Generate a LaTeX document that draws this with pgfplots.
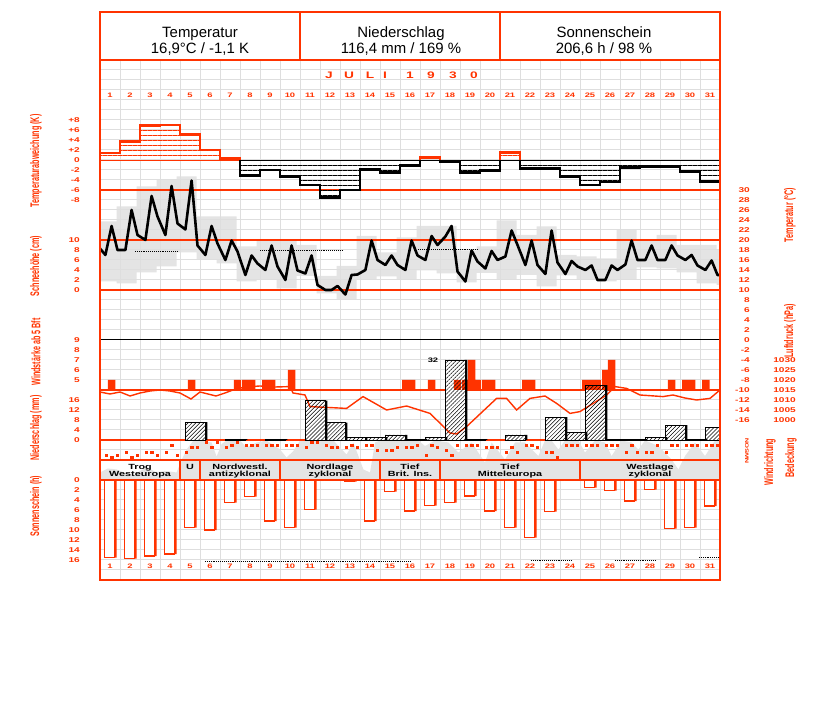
\documentclass[border=0pt]{standalone}
\usepackage{fontspec}
\setmainfont{Liberation Sans}
\newfontfamily\pixf{Liberation Sans}[FakeStretch=1.45]
\newfontfamily\narrowf{Liberation Sans}[FakeStretch=0.58]
\usepackage{pgfplots}
\pgfplotsset{compat=1.18}
\usepackage{pgfplotstable}
\usepgfplotslibrary{fillbetween}
\usetikzlibrary{patterns,patterns.meta}
\definecolor{rd}{RGB}{255,51,0}
\definecolor{gridc}{RGB}{222,222,222}
\definecolor{grf}{RGB}{228,228,228}
\pgfplotsset{lay/.style={at={(100bp,122bp)},anchor=south west,scale only axis,
  width=620bp,height=568bp,xmin=0,xmax=31,hide axis}}
\newcommand{\pf}[1]{\pixf\fontsize{#1}{#1}\selectfont}
\newcommand{\nf}{\narrowf\fontsize{12.5}{13}\selectfont}

% daily temperature range boxes (21h to 21h), deg C
\pgfplotstableread{
x lo hi
-0.167 11.7 23.7
0.833 11.3 26.7
1.833 13.5 30.7
2.833 14.7 32.0
3.833 17.5 32.7
4.833 16.0 24.7
5.833 15.3 24.7
6.833 11.7 18.7
7.833 12.0 20.0
8.833 10.3 20.1
9.833 12.8 19.0
10.833 9.3 12.8
11.833 8.0 14.8
12.833 12.0 20.8
13.833 12.7 17.5
14.833 12.0 20.5
15.833 13.9 22.8
16.833 13.3 22.8
17.833 11.5 17.9
18.833 13.4 18.7
19.833 12.0 23.9
20.833 13.0 21.0
21.833 10.7 22.7
22.833 12.9 17.0
23.833 12.0 16.7
24.833 11.7 16.3
25.833 12.0 22.0
26.833 14.5 20.0
27.833 14.3 21.0
28.833 13.5 19.0
29.833 11.3 19.0
30.833 11.0 18.0
31.833 11.0 18.0
}\boxT

% temperature at 7h, 14h, 21h
\pgfplotstableread{
x T
0 18.3
0.27 17.0
0.58 22.8
0.875 18.0
1.27 18.0
1.58 26.0
1.875 21.0
2.27 20.0
2.58 28.8
2.875 24.7
3.27 21.0
3.58 30.8
3.875 23.3
4.27 22.1
4.58 31.9
4.875 18.9
5.27 17.0
5.58 22.8
5.875 19.3
6.27 16.0
6.58 19.9
6.875 17.7
7.27 13.0
7.58 16.9
7.875 15.3
8.27 14.0
8.58 18.9
8.875 14.7
9.27 12.0
9.58 18.9
9.875 13.9
10.27 13.3
10.58 16.9
10.875 11.0
11.27 10.0
11.58 10.0
11.875 10.8
12.27 9.1
12.58 13.0
12.875 13.1
13.27 14.0
13.58 19.9
13.875 16.0
14.27 15.0
14.58 16.9
14.875 15.0
15.27 14.0
15.58 19.9
15.875 16.9
16.27 16.0
16.58 20.8
16.875 19.0
17.27 20.7
17.58 22.8
17.875 13.7
18.27 11.7
18.58 17.9
18.875 15.7
19.27 14.3
19.58 17.8
19.875 16.0
20.27 16.7
20.58 21.9
20.875 19.0
21.27 15.0
21.58 19.9
21.875 15.0
22.27 13.2
22.58 21.9
22.875 15.5
23.27 13.2
23.58 15.8
23.875 14.7
24.27 14.0
24.58 14.9
24.875 12.0
25.27 12.0
25.58 14.9
25.875 14.0
26.27 15.1
26.58 19.9
26.875 16.0
27.27 16.0
27.58 18.9
27.875 16.0
28.27 16.0
28.58 18.9
28.875 16.9
29.27 16.0
29.58 17.0
29.875 14.9
30.27 14.0
30.58 15.9
30.875 13.0
31 13.0
}\tempT

% cloud cover (eighths)
\pgfplotstableread{
x c
0 1.5
0.4 2.3
0.83 2.1
1.2 1.5
1.67 0.8
2.0 1.8
2.33 2.5
2.8 1.6
3.33 1.8
3.83 1.5
4.08 4.0
4.33 6.1
4.67 7.9
5.0 7.9
5.58 7.5
5.83 4.7
6.08 7.2
6.33 7.9
7.0 7.9
7.33 6.5
7.83 7.5
8.33 7.9
9.0 6.1
9.33 4.5
9.67 5.8
10.0 7.9
11.67 7.9
12.33 5.1
12.67 7.5
13.17 2.1
13.5 1.5
13.75 7.5
14.0 7.9
15.25 7.9
15.92 7.9
16.25 6.8
16.75 7.9
17.42 7.5
17.92 5.5
18.58 7.5
19.25 3.5
19.58 7.5
20.25 4.1
20.75 7.5
21.25 7.5
21.92 4.8
22.25 7.9
22.58 7.9
22.92 6.1
23.25 7.9
23.92 7.9
24.25 5.5
24.75 7.9
25.25 7.5
25.58 4.8
26.08 7.9
26.58 7.5
26.92 6.1
27.25 7.9
27.92 6.8
28.58 4.1
28.92 2.1
29.25 4.8
29.75 7.5
30.25 4.8
30.75 7.9
31 7.9
}\cloudT

% precipitation (mm)
\pgfplotstableread{
d pr
5 7.1
7 0.3
9 0.3
11 15.7
12 6.9
13 1.1
14 1.1
15 2.0
16 0.3
17 1.1
18 32
19 0.3
21 2.0
23 9.1
24 3.1
25 21.9
26 0.3
27 0.3
28 1.1
29 5.9
30 0.3
31 5.1
}\prT

% wind force (Bft) at observation times
\pgfplotstableread{
t bft
0.58 5
4.58 5
6.875 5
7.29 5
7.58 5
8.29 5
8.58 5
9.58 6
15.29 5
15.58 5
16.58 5
17.875 5
18.29 5
18.58 7
18.875 5
19.29 5
19.58 5
21.29 5
21.58 5
24.29 5
24.58 5
24.875 5
25.29 6
25.58 7
28.58 5
29.29 5
29.58 5
30.29 5
}\windT

% pressure (hPa)
\pgfplotstableread{
t p
0 1014.0
0.5 1013.0
1 1014.0
1.5 1012.0
2 1013.5
2.5 1014.5
3 1015.0
3.5 1014.5
4 1013.5
4.55 1010.5
5 1014.0
5.8 1012.0
6.25 1013.5
6.65 1015.0
7.25 1016.5
8 1017.0
8.75 1016.5
9.5 1016.7
9.65 1013.5
10.25 1012.5
10.5 1006.7
12.33 1005.8
13.15 1011.7
14.33 1005.0
15.33 1007.0
16.5 1003.3
17.5 993.5
17.83 993.0
18.33 996.7
19.83 1010.8
20.33 1010.8
20.83 1005.0
21.5 1010.8
22.25 1012.0
22.83 1008.3
23.5 1003.3
24 1004.2
25.33 1012.5
25.75 1016.7
26.33 1015.8
27 1012.5
28.15 1011.7
28.65 1012.5
29.25 1011.0
29.83 1010.0
30.5 1010.8
31 1015.0
}\presT

% sunshine (h)
\pgfplotstableread{
d sun
1 15.5
2 15.7
3 15.2
4 14.8
5 9.5
6 10.0
7 4.5
8 3.3
9 8.2
10 9.5
11 5.9
12 0
13 0.3
14 8.2
15 2.3
16 6.2
17 5.1
18 4.5
19 3.2
20 6.2
21 9.5
22 11.5
23 6.3
24 0
25 1.5
26 2.1
27 4.2
28 1.9
29 9.7
30 9.5
31 5.2
}\sunT

% wind direction (degrees) at 7h, 14h, 21h
\pgfplotstableread{
d a b c
1 270 315 270
2 225 315 270
3 225 225 270
4 225 90 270
5 225 135 135
6 45 135 45
7 135 90 45
8 90 90 90
9 90 90 90
10 90 90 90
11 135 45 45
12 90 135 135
13 135 90 135
14 90 90 180
15 180 180 135
16 135 135 90
17 270 90 135
18 180 270 90
19 90 90 90
20 135 135 135
21 225 135 225
22 90 90 135
23 225 225 315
24 90 90 90
25 90 90 90
26 90 90 90
27 225 90 225
28 225 225 90
29 225 90 90
30 90 90 90
31 90 90 90
}\dirT

\begin{document}
\begin{tikzpicture}
\path (0,0) rectangle (827bp,702bp);
% ---------- background grid ----------
\begin{scope}[x=1bp,y=-1bp,yshift=702bp]
\foreach \x in {120,140,...,700} \draw[gridc,line width=1bp] (\x,60) -- (\x,580);
\foreach \y in {70,80,...,570} \draw[gridc,line width=1bp] (100,\y) -- (720,\y);
\fill[white] (100,460) rectangle (720,480);
\end{scope}
% ---------- temperature range boxes ----------
\begin{axis}[lay,ymin=-48,ymax=65.6]
\addplot[const plot,draw=none,name path=hi] table[x=x,y=hi]{\boxT};
\addplot[const plot,draw=none,name path=lo] table[x=x,y=lo]{\boxT};
\addplot[fill=grf,draw=none] fill between[of=hi and lo];
\end{axis}
% ---------- cloud cover ----------
\begin{axis}[lay,ymin=-20,ymax=93.6]
\addplot[fill=grf,draw=none] table[x=x,y=c]{\cloudT} \closedcycle;
\end{axis}
% ---------- lines, texts ----------
\begin{scope}[x=1bp,y=-1bp,yshift=702bp]
\foreach \y in {60,190,240,290,390,440,460,480} \draw[rd,line width=1.2bp] (100,\y) -- (720,\y);
\draw[black,line width=1bp] (100,340) -- (720,340);
\foreach \x in {180,200,280,380,440,580} \draw[rd,line width=1.2bp] (\x,460) -- (\x,480);
\draw[rd,line width=1.2bp] (300,12) -- (300,60) (500,12) -- (500,60);
% header
\node[anchor=base,font=\fontsize{15}{15}\selectfont] at (200,37.3) {Temperatur};
\node[anchor=base,font=\fontsize{15}{15}\selectfont] at (200,54) {16,9°C / -1,1 K};
\node[anchor=base,font=\fontsize{15}{15}\selectfont] at (401,37.3) {Niederschlag};
\node[anchor=base,font=\fontsize{15}{15}\selectfont] at (401,54) {116,4 mm / 169 \%};
\node[anchor=base,font=\fontsize{15}{15}\selectfont] at (604,37.3) {Sonnenschein};
\node[anchor=base,font=\fontsize{15}{15}\selectfont] at (604,54) {206,6 h / 98 \%};
% month
\foreach \c/\x in {J/329,U/349,L/370,I/385,1/410,9/431,3/453,0/474}
  \node[rd,anchor=base,inner sep=0pt,font=\pf{9.5}\bfseries] at (\x,78.5) {\c};
% day numbers
\foreach \d in {1,...,31} {
  \node[rd,inner sep=0pt,font=\pf{6.5}\bfseries] at ({20*\d+90},95) {\d};
  \node[rd,inner sep=0pt,font=\pf{6.5}\bfseries] at ({20*\d+90},566) {\d};
}
% weather types
\foreach \x/\a/\b in {140/Trog/Westeuropa,190/U/{},240/Nordwestl./antizyklonal,330/Nordlage/zyklonal,410/Tief/Brit. Ins.,510/Tief/Mitteleuropa,650/Westlage/zyklonal} {
  \node[anchor=base,inner sep=0pt,font=\pf{7.5}\bfseries] at (\x,469.5) {\a};
  \node[anchor=base,inner sep=0pt,font=\pf{7.5}\bfseries] at (\x,477) {\b};
}
% left tick labels
\foreach \y/\t in {120/+8,130/+6,140/+4,150/+2,160/0,170/-2,180/-4,190/-6,200/-8,
  240/10,250/8,260/6,270/4,280/2,290/0,340/9,350/8,360/7,370/6,380/5,
  400/16,410/12,420/8,430/4,440/0,480/0,490/2,500/4,510/6,520/8,530/10,540/12,550/14,560/16}
  \node[rd,anchor=east,inner sep=0pt,font=\pf{7}\bfseries] at (80,\y) {\t};
% right tick labels
\foreach \y/\t in {190/30,200/28,210/26,220/24,230/22,240/20,250/18,260/16,270/14,280/12,290/10,
  300/8,310/6,320/4,330/2,340/0,350/-2,360/-4,370/-6,380/-8,390/-10,400/-12,410/-14,420/-16}
  \node[rd,anchor=east,inner sep=0pt,font=\pf{7}\bfseries] at (750,\y) {\t};
\foreach \y/\t in {360/1030,370/1025,380/1020,390/1015,400/1010,410/1005,420/1000}
  \node[rd,anchor=east,inner sep=0pt,font=\pf{7}\bfseries] at (796,\y) {\t};
\foreach \y/\t in {441/N,446/O,451/S,456/W,461/N}
  \node[rd,rotate=90,inner sep=0pt,font=\pf{5}\bfseries] at (747,\y) {\t};
% axis titles
\node[rd,rotate=90,font=\nf\bfseries] at (36,161) {Temperaturabweichung (K)};
\node[rd,rotate=90,font=\nf\bfseries] at (36,266) {Schneehöhe (cm)};
\node[rd,rotate=90,font=\nf\bfseries] at (36,352) {Windstärke ab 5 Bft};
\node[rd,rotate=90,font=\nf\bfseries] at (36,428) {Niederschlag (mm)};
\node[rd,rotate=90,font=\nf\bfseries] at (36,506) {Sonnenschein (h)};
\node[rd,rotate=90,font=\nf\bfseries] at (790,215) {Temperatur (°C)};
\node[rd,rotate=90,font=\nf\bfseries] at (790,331) {Luftdruck (hPa)};
\node[rd,rotate=90,font=\nf\bfseries] at (770,462) {Windrichtung};
\node[rd,rotate=90,font=\nf\bfseries] at (791,458) {Bedeckung};
\end{scope}
% ---------- temperature deviation ----------
\begin{axis}[lay,ymin=-84,ymax=29.6]
\addplot[const plot,draw=none,pattern={Lines[angle=0,distance=5bp,line width=0.6bp,yshift=2bp]},pattern color=rd]
 coordinates {(0,1.4)(1,3.7)(2,6.9)(3,7.0)(4,5.1)(5,2.0)(6,0.3)(7,0)(16,0.5)(17,0)(20,1.5)(21,0)(31,0)} \closedcycle;
\addplot[const plot,draw=none,pattern={Lines[angle=0,distance=5bp,line width=0.6bp,yshift=2bp]},pattern color=black]
 coordinates {(0,0)(7,-3.1)(8,-2.0)(9,-3.3)(10,-5.0)(11,-7.5)(12,-6.0)(13,-1.9)(14,-2.5)(15,-1.1)(16,0)(17,-0.3)(18,-2.5)(19,-2.1)(20,0)(21,-1.7)(22,-1.7)(23,-3.3)(24,-5.0)(25,-4.4)(26,-1.5)(27,-1.3)(28,-1.3)(29,-2.3)(30,-4.3)(31,-4.3)} \closedcycle;
\addplot[black,line width=0.8bp] coordinates {(0,0)(31,0)};
\addplot[rd,line width=0.8bp] coordinates {(0,0)(7,0)};
\addplot[const plot,rd,line width=2.2bp] coordinates {(0,0)(0,1.4)(1,3.7)(2,6.9)(3,7.0)(4,5.1)(5,2.0)(6,0.3)(7,0)};
\addplot[const plot,rd,line width=2.2bp] coordinates {(16,0)(16,0.5)(17,0)};
\addplot[const plot,rd,line width=2.2bp] coordinates {(20,0)(20,1.5)(21,0)};
\addplot[const plot,black,line width=2.2bp] coordinates {(7,0)(7,-3.1)(8,-2.0)(9,-3.3)(10,-5.0)(11,-7.5)(12,-6.0)(13,-1.9)(14,-2.5)(15,-1.1)(16,0)};
\addplot[const plot,black,line width=2.2bp] coordinates {(17,0)(17,-0.3)(18,-2.5)(19,-2.1)(20,0)};
\addplot[const plot,black,line width=2.2bp] coordinates {(21,0)(21,-1.7)(22,-1.7)(23,-3.3)(24,-5.0)(25,-4.4)(26,-1.5)(27,-1.3)(28,-1.3)(29,-2.3)(30,-4.3)(31,-4.3)};
\end{axis}
% ---------- temperature line ----------
\begin{axis}[lay,ymin=-48,ymax=65.6]
\addplot[black,line width=0.9bp,densely dotted] coordinates {(1.75,17.7)(3.9,17.7)};
\addplot[black,line width=0.9bp,densely dotted] coordinates {(8.0,18.0)(12.15,18.0)};
\addplot[black,line width=0.9bp,densely dotted] coordinates {(15.9,18.1)(18.85,18.1)};
\addplot[black,line width=2.6bp,line join=round] table[x=x,y=T]{\tempT};
\end{axis}
% ---------- precipitation background ----------
\begin{axis}[lay,ymin=-56,ymax=171.2]
\addplot[ybar,bar width=1,bar shift=0pt,fill=white,draw=none] table[x expr=\thisrow{d}-0.25,y=pr]{\prT};
\end{axis}
% ---------- wind force ----------
\begin{axis}[lay,ymin=-19,ymax=37.8]
\addplot[ybar,bar width=0.37,bar shift=0pt,fill=rd,draw=none] table[x=t,y expr=\thisrow{bft}-4]{\windT};
\end{axis}
% ---------- pressure ----------
\begin{axis}[lay,ymin=920,ymax=1204]
\addplot[rd,line width=1.4bp] table[x=t,y=p]{\presT};
\end{axis}
% ---------- precipitation bars ----------
\begin{axis}[lay,ymin=-56,ymax=171.2]
\addplot[ybar,bar width=1,bar shift=0pt,draw=black,line width=0.8bp,pattern={Lines[angle=45,distance=2.8bp,line width=0.5bp]},pattern color=black] table[x expr=\thisrow{d}-0.25,y=pr]{\prT};
\addplot[ybar,bar width=0.12,bar shift=0pt,fill=black,draw=none] table[x expr=\thisrow{d}+0.31,y=pr]{\prT};
\end{axis}
% ---------- sunshine ----------
\begin{axis}[lay,ymin=-93.6,ymax=20,y dir=reverse]
\addplot[ybar,bar width=0.49,bar shift=0pt,fill=white,draw=rd,line width=1.1bp] table[x expr=\thisrow{d}-0.535,y=sun]{\sunT};
\addplot[ybar,bar width=0.12,bar shift=0pt,fill=rd,draw=none] table[x expr=\thisrow{d}-0.23,y=sun]{\sunT};
\addplot[black,line width=0.9bp,densely dotted] coordinates {(5.25,16.2)(15.5,16.2)};
\addplot[black,line width=0.9bp,densely dotted] coordinates {(21.55,16.0)(23.55,16.0)};
\addplot[black,line width=0.9bp,densely dotted] coordinates {(25.75,16.0)(27.8,16.0)};
\addplot[black,line width=0.9bp,densely dotted] coordinates {(29.95,15.5)(31,15.5)};
\end{axis}
% ---------- wind direction ----------
\begin{axis}[lay,ymin=-7704,ymax=2520,y dir=reverse]
\addplot[only marks,mark=square*,mark size=1.1bp,rd,mark options={draw=none,fill=rd}] table[x expr=\thisrow{d}-0.71,y=a]{\dirT};
\addplot[only marks,mark=square*,mark size=1.1bp,rd,mark options={draw=none,fill=rd}] table[x expr=\thisrow{d}-0.42,y=b]{\dirT};
\addplot[only marks,mark=square*,mark size=1.1bp,rd,mark options={draw=none,fill=rd}] table[x expr=\thisrow{d}-0.125,y=c]{\dirT};
\end{axis}
% ---------- frame ----------
\begin{scope}[x=1bp,y=-1bp,yshift=702bp]
\node[inner sep=0pt,font=\pf{6.5}\bfseries] at (433,360) {32};
\draw[rd,line width=1.5bp] (100,12) rectangle (720,580);
\end{scope}
\end{tikzpicture}
\end{document}
